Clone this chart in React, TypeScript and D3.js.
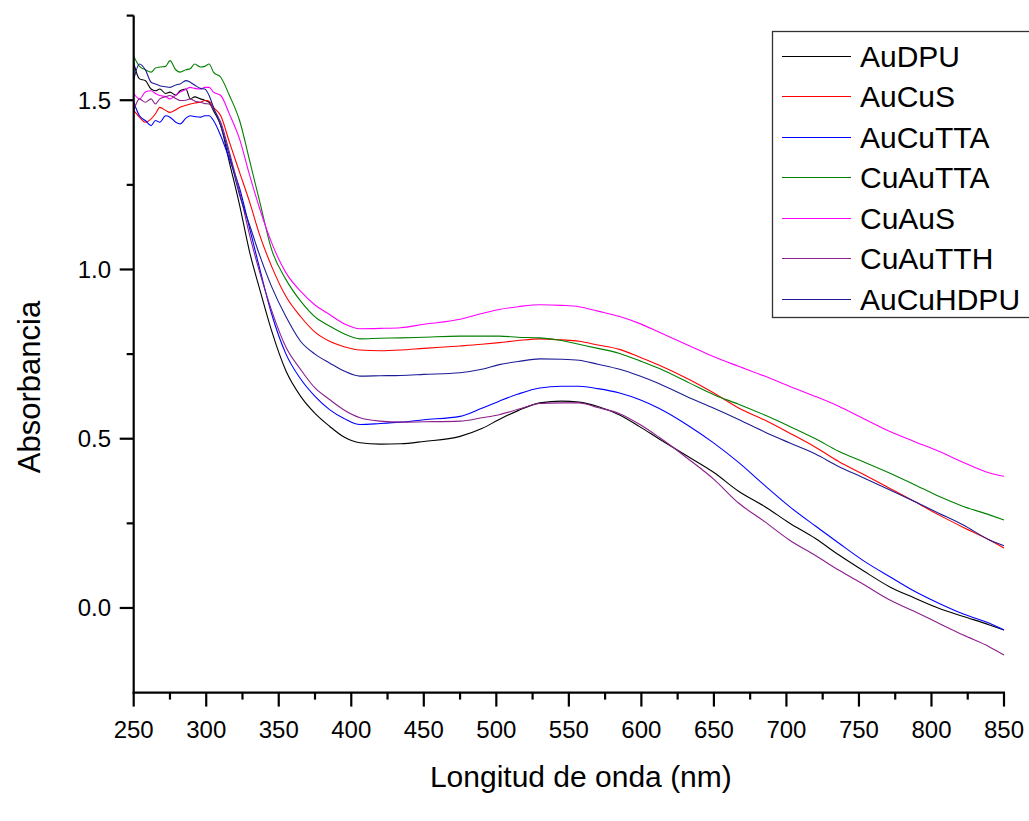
import React from 'react';
import * as d3 from 'd3';

const WAVELENGTHS = [250, 254, 258, 262, 265, 268, 272, 275, 279, 282, 286, 289, 292, 296, 299, 302, 305, 310, 316, 323, 330, 337, 345, 355, 365, 375, 385, 395, 406, 420, 434, 450, 475, 490, 502, 515, 530, 545, 557, 570, 585, 599, 612, 633, 650, 667, 685, 702, 720, 736, 753, 771, 788, 805, 822, 840, 850];

const AuDPU = [1.61, 1.563, 1.558, 1.533, 1.528, 1.533, 1.52, 1.524, 1.515, 1.528, 1.533, 1.504, 1.51, 1.504, 1.50, 1.494, 1.469, 1.425, 1.316, 1.19, 1.05, 0.94, 0.82, 0.70, 0.626, 0.575, 0.537, 0.505, 0.488, 0.484, 0.485, 0.492, 0.507, 0.53, 0.557, 0.583, 0.606, 0.611, 0.608, 0.595, 0.57, 0.535, 0.50, 0.445, 0.40, 0.345, 0.30, 0.251, 0.205, 0.157, 0.11, 0.063, 0.03, -0.001, -0.025, -0.05, -0.065];
const AuCuS = [1.47, 1.45, 1.435, 1.445, 1.46, 1.479, 1.47, 1.464, 1.472, 1.479, 1.485, 1.489, 1.492, 1.494, 1.499, 1.497, 1.479, 1.454, 1.376, 1.287, 1.198, 1.10, 1.01, 0.92, 0.861, 0.815, 0.788, 0.772, 0.762, 0.76, 0.762, 0.767, 0.774, 0.779, 0.784, 0.79, 0.795, 0.792, 0.788, 0.777, 0.764, 0.741, 0.718, 0.675, 0.635, 0.591, 0.555, 0.517, 0.475, 0.433, 0.395, 0.354, 0.315, 0.275, 0.238, 0.201, 0.177];
const AuCuTTA = [1.494, 1.454, 1.44, 1.425, 1.44, 1.435, 1.454, 1.45, 1.435, 1.43, 1.447, 1.454, 1.452, 1.45, 1.454, 1.454, 1.44, 1.395, 1.326, 1.24, 1.12, 1.0, 0.87, 0.75, 0.677, 0.625, 0.586, 0.56, 0.542, 0.545, 0.549, 0.556, 0.566, 0.59, 0.611, 0.632, 0.65, 0.655, 0.655, 0.648, 0.635, 0.615, 0.59, 0.537, 0.487, 0.43, 0.362, 0.30, 0.242, 0.192, 0.14, 0.093, 0.05, 0.014, -0.018, -0.045, -0.065];
const CuAuTTA = [1.63, 1.60, 1.59, 1.583, 1.595, 1.598, 1.60, 1.617, 1.59, 1.583, 1.59, 1.593, 1.607, 1.598, 1.60, 1.607, 1.583, 1.568, 1.514, 1.44, 1.32, 1.198, 1.06, 0.97, 0.907, 0.86, 0.833, 0.81, 0.795, 0.797, 0.798, 0.80, 0.803, 0.803, 0.803, 0.80, 0.798, 0.79, 0.779, 0.767, 0.752, 0.73, 0.708, 0.665, 0.63, 0.602, 0.57, 0.537, 0.50, 0.463, 0.432, 0.399, 0.365, 0.33, 0.30, 0.275, 0.26];
const CuAuS = [1.52, 1.504, 1.524, 1.528, 1.52, 1.514, 1.51, 1.504, 1.515, 1.524, 1.532, 1.538, 1.535, 1.533, 1.538, 1.538, 1.524, 1.514, 1.459, 1.385, 1.277, 1.178, 1.08, 0.99, 0.936, 0.895, 0.867, 0.84, 0.825, 0.826, 0.828, 0.838, 0.853, 0.87, 0.882, 0.89, 0.896, 0.894, 0.89, 0.877, 0.861, 0.84, 0.815, 0.775, 0.742, 0.714, 0.685, 0.655, 0.625, 0.596, 0.56, 0.522, 0.492, 0.463, 0.43, 0.399, 0.389];
const CuAuTTH = [1.47, 1.504, 1.494, 1.504, 1.489, 1.504, 1.51, 1.514, 1.505, 1.499, 1.50, 1.504, 1.498, 1.494, 1.49, 1.489, 1.474, 1.435, 1.346, 1.23, 1.10, 0.99, 0.88, 0.77, 0.705, 0.65, 0.616, 0.585, 0.562, 0.552, 0.549, 0.55, 0.552, 0.562, 0.571, 0.587, 0.604, 0.606, 0.606, 0.592, 0.574, 0.542, 0.505, 0.438, 0.38, 0.31, 0.255, 0.201, 0.155, 0.112, 0.07, 0.024, -0.01, -0.045, -0.08, -0.115, -0.139];
const AuCuHDPU = [1.56, 1.607, 1.59, 1.553, 1.548, 1.543, 1.54, 1.538, 1.545, 1.548, 1.558, 1.553, 1.545, 1.535, 1.533, 1.514, 1.479, 1.425, 1.336, 1.22, 1.13, 1.04, 0.95, 0.86, 0.788, 0.75, 0.724, 0.70, 0.685, 0.686, 0.687, 0.69, 0.695, 0.705, 0.719, 0.728, 0.736, 0.735, 0.732, 0.72, 0.705, 0.685, 0.663, 0.621, 0.59, 0.557, 0.52, 0.488, 0.455, 0.418, 0.385, 0.349, 0.315, 0.28, 0.245, 0.201, 0.184];

const SERIES_NAMES = ['AuDPU', 'AuCuS', 'AuCuTTA', 'CuAuTTA', 'CuAuS', 'CuAuTTH', 'AuCuHDPU'];
const SERIES_VALUES = [AuDPU, AuCuS, AuCuTTA, CuAuTTA, CuAuS, CuAuTTH, AuCuHDPU];
const SERIES_COLORS = ['#000000', '#ff0000', '#0000ff', '#008000', '#ff00ff', '#8b1f8b', '#1c1c96'];

const X_MAJOR_TICKS = [250, 300, 350, 400, 450, 500, 550, 600, 650, 700, 750, 800, 850];
const X_MINOR_TICKS = [275, 325, 375, 425, 475, 525, 575, 625, 675, 725, 775, 825];
const Y_MAJOR_TICKS = [0.0, 0.5, 1.0, 1.5];
const Y_MINOR_TICKS = [0.25, 0.75, 1.25, 1.75];

const X_TITLE = 'Longitud de onda (nm)';
const Y_TITLE = 'Absorbancia';

const FONT = '"Liberation Sans", Arial, sans-serif';

export default function App() {
  const W = 1029;
  const H = 821;
  const x = d3.scaleLinear().domain([250, 850]).range([133.7, 1004]);
  const y = d3.scaleLinear().domain([-0.25, 1.75]).range([692.6, 15.6]);

  const line = d3
    .line<number>()
    .x((_, i) => x(WAVELENGTHS[i]))
    .y((d) => y(d))
    .curve(d3.curveMonotoneX);

  const x0 = x(250);
  const x1 = x(850);
  const yb = y(-0.25);
  const yt = y(1.75);

  const legendX = 772.5;
  const legendY = 31.5;
  const rowH = 40.5;

  return (
    <svg
      width={W}
      height={H}
      style={{ position: 'absolute', left: 0, top: 0, background: '#fff' }}
      fontFamily={FONT}
    >
      <rect x={0} y={0} width={W} height={H} fill="#fff" />
      {SERIES_VALUES.map((vals, k) => (
        <path key={SERIES_NAMES[k]} d={line(vals) || ''} fill="none" stroke={SERIES_COLORS[k]} strokeWidth={1.1} />
      ))}

      {/* axes */}
      <line x1={x0} y1={yt} x2={x0} y2={yb + 1} stroke="#000" strokeWidth={2.2} />
      <line x1={x0 - 1} y1={yb} x2={x1 + 1} y2={yb} stroke="#000" strokeWidth={2.2} />

      {X_MAJOR_TICKS.map((t) => (
        <g key={'xm' + t}>
          <line x1={x(t)} y1={yb} x2={x(t)} y2={yb + 14} stroke="#000" strokeWidth={2.2} />
          <text x={x(t)} y={738} textAnchor="middle" fontSize={24} fill="#000">
            {t}
          </text>
        </g>
      ))}
      {X_MINOR_TICKS.map((t) => (
        <line key={'xn' + t} x1={x(t)} y1={yb} x2={x(t)} y2={yb + 7} stroke="#000" strokeWidth={2.2} />
      ))}
      {Y_MAJOR_TICKS.map((t) => (
        <g key={'ym' + t}>
          <line x1={x0} y1={y(t)} x2={x0 - 14} y2={y(t)} stroke="#000" strokeWidth={2.2} />
          <text x={111} y={y(t) + 8.5} textAnchor="end" fontSize={24} fill="#000">
            {t.toFixed(1)}
          </text>
        </g>
      ))}
      {Y_MINOR_TICKS.map((t) => (
        <line key={'yn' + t} x1={x0} y1={y(t)} x2={x0 - 7} y2={y(t)} stroke="#000" strokeWidth={2.2} />
      ))}

      <text x={(x0 + x1) / 2 + 12} y={787} textAnchor="middle" fontSize={30} fill="#000">
        {X_TITLE}
      </text>
      <text transform={`translate(40, 387) rotate(-90)`} textAnchor="middle" fontSize={31} fill="#000">
        {Y_TITLE}
      </text>

      {/* legend */}
      <rect x={legendX} y={legendY} width={W - legendX + 10} height={286} fill="#fff" stroke="#333" strokeWidth={1.3} />
      {SERIES_NAMES.map((name, k) => {
        const cy = Math.round(legendY + 24 + k * rowH) + 0.5;
        return (
          <g key={'lg' + name}>
            <line x1={782} y1={cy} x2={851} y2={cy} stroke={SERIES_COLORS[k]} strokeWidth={1} />
            <text x={860} y={cy + 10.5} fontSize={30} fill="#000">
              {name}
            </text>
          </g>
        );
      })}
    </svg>
  );
}
